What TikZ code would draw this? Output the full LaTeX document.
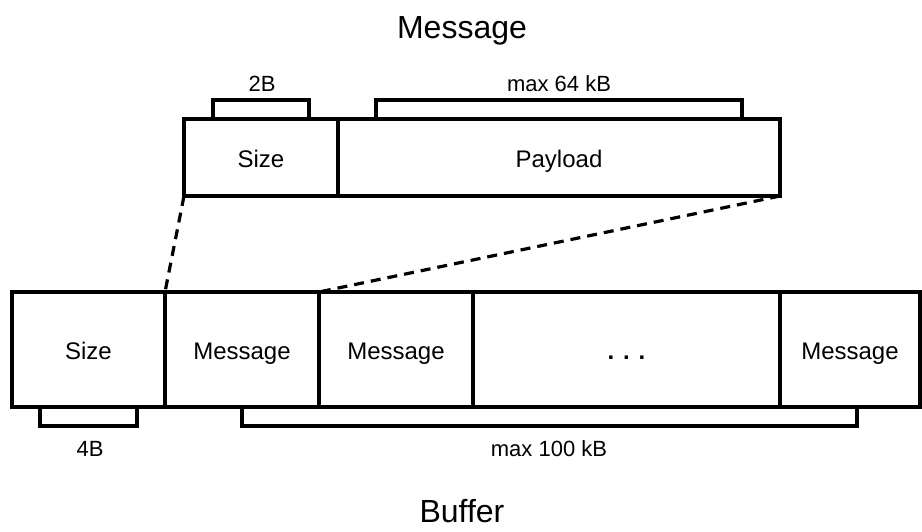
\documentclass[tikz,border=0pt]{standalone}
\usepackage{fontspec}
\setmainfont{Liberation Sans}
\begin{document}
\begin{tikzpicture}[x=1pt, y=-1pt, line width=3.2pt, line join=miter,
  cell/.style={draw, rectangle, anchor=north west, outer sep=0pt, inner sep=0pt,
    text height=19pt, text depth=0pt, font=\fontsize{24}{28}\selectfont},
  topcell/.style={cell, minimum height=77pt},
  bufcell/.style={cell, minimum height=115pt, text height=20pt},
  caption/.style={anchor=base, font=\fontsize{32}{38}\selectfont},
  sizelabel/.style={anchor=base, font=\fontsize{22}{26}\selectfont},
  bracket/.style={draw},
  zoomline/.style={draw, dash pattern=on 10pt off 7pt}]
  \useasboundingbox (0,0) rectangle (922,531);

  % titles
  \node[caption] (msgtitle) at (462,38) {Message};
  \node[caption] (buftitle) at (462,522) {Buffer};

  % message layout
  \node[topcell, minimum width=154pt] (msize) at (184,119) {Size};
  \node[topcell, minimum width=442pt] (payload) at (338,119) {Payload};

  % buffer layout
  \node[bufcell, minimum width=153pt] (bsize) at (12,292) {Size};
  \node[bufcell, minimum width=154pt] (m1) at (165,292) {Message};
  \node[bufcell, minimum width=154pt] (m2) at (319,292) {Message};
  \node[bufcell, minimum width=307pt] (mdots) at (473,292) {\bfseries . . .};
  \node[bufcell, minimum width=140pt] (m3) at (780,292) {Message};

  % field size brackets
  \draw[bracket] (213,119) -- (213,100) -- (309,100) -- (309,119);
  \draw[bracket] (376,119) -- (376,100) -- (742,100) -- (742,119);
  \draw[bracket] (40,407) -- (40,426) -- (137,426) -- (137,407);
  \draw[bracket] (242,407) -- (242,426) -- (857,426) -- (857,407);

  \node[sizelabel] (l2b) at (262,91) {2B};
  \node[sizelabel] (l64) at (559,91) {max 64 kB};
  \node[sizelabel] (l4b) at (90,456) {4B};
  \node[sizelabel] (l100) at (549,456) {max 100 kB};

  % zoom lines from a message to its slot in the buffer
  \draw[zoomline] (msize.south west) -- (m1.north west);
  \draw[zoomline] (payload.south east) -- (m2.north west);
\end{tikzpicture}
\end{document}
